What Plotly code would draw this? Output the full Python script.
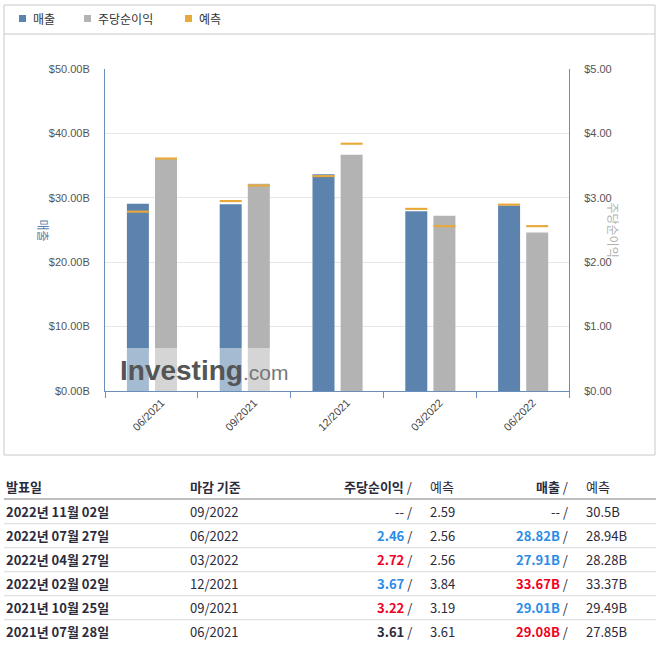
import plotly.graph_objects as go

# Données du tableau (le plus récent en premier)
release_dates = ["2022년 11월 02일", "2022년 07월 27일", "2022년 04월 27일",
                 "2022년 02월 02일", "2021년 10월 25일", "2021년 07월 28일"]
period_end = ["09/2022", "06/2022", "03/2022", "12/2021", "09/2021", "06/2021"]
eps_actual = [None, 2.46, 2.72, 3.67, 3.22, 3.61]
eps_forecast = [2.59, 2.56, 2.56, 3.84, 3.19, 3.61]
rev_actual = [None, 28.82, 27.91, 33.67, 29.01, 29.08]
rev_forecast = [30.5, 28.94, 28.28, 33.37, 29.49, 27.85]

# le graphique montre les périodes publiées, de la plus ancienne à la plus récente
periods = period_end[1:][::-1]
rev_bars = rev_actual[1:][::-1]
eps_bars = eps_actual[1:][::-1]
rev_fc = rev_forecast[1:][::-1]
eps_fc = eps_forecast[1:][::-1]

BLUE = "#5b83ae"
GREY = "#b3b3b3"
ORANGE = "#e9a83a"
AXIS = "#6b8fbd"
RED = "#f0001e"
SKY = "#2a8ce6"
DARK = "#2b2b3b"
FONT = "Arial, Liberation Sans, Noto Sans CJK KR, sans-serif"
KFONT = "Noto Sans CJK KR, Liberation Sans, sans-serif"

W, H = 661, 650
L, R, T, B = 105, 569, 69, 391   # zone de tracé, en pixels


def fx(px):
    return (px - L) / (R - L)


def fy(py):
    return (B - py) / (B - T)


bw, off_rev, off_eps = 0.237, -0.264, 0.039
th_rev, th_eps = 0.33, 0.033

fig = go.Figure()
fig.add_trace(go.Bar(x=periods, y=rev_bars, width=bw, offset=off_rev,
                     marker=dict(color=BLUE, line_width=0), name="매출"))
fig.add_trace(go.Bar(x=periods, y=[th_rev] * len(periods),
                     base=[v - th_rev / 2 for v in rev_fc], width=bw, offset=off_rev,
                     marker=dict(color=ORANGE, line_width=0), name="예측"))
fig.add_trace(go.Bar(x=periods, y=eps_bars, width=bw, offset=off_eps, yaxis="y2",
                     marker=dict(color=GREY, line_width=0), name="주당순이익"))
fig.add_trace(go.Bar(x=periods, y=[th_eps] * len(periods),
                     base=[v - th_eps / 2 for v in eps_fc], width=bw, offset=off_eps,
                     yaxis="y2", marker=dict(color=ORANGE, line_width=0), name="예측"))

shapes = []
annotations = []

# cadre + séparateur de légende
shapes.append(dict(type="rect", xref="paper", yref="paper", x0=fx(4), x1=fx(655),
                   y0=fy(455), y1=fy(5), line=dict(color="#c8c8c8", width=1), layer="below"))
shapes.append(dict(type="line", xref="paper", yref="paper", x0=fx(4), x1=fx(655),
                   y0=fy(34), y1=fy(34), line=dict(color="#c8c8c8", width=1)))

# légende
legend_items = [("매출", BLUE, 19), ("주당순이익", GREY, 84), ("예측", ORANGE, 185)]
for label, color, px in legend_items:
    shapes.append(dict(type="rect", xref="paper", yref="paper", x0=fx(px), x1=fx(px + 7),
                       y0=fy(22), y1=fy(15), fillcolor=color, line_width=0))
    annotations.append(dict(text=label, xref="paper", yref="paper", x=fx(px + 12), y=fy(18.5),
                            xanchor="left", yanchor="middle", showarrow=False,
                            font=dict(family=KFONT, size=12, color="#333")))

# titres des axes
annotations.append(dict(text="매출", xref="paper", yref="paper", x=fx(33), y=fy(230),
                        textangle=90, showarrow=False, font=dict(family=KFONT, size=12, color="#5a7fad")))
annotations.append(dict(text="주당순이익", xref="paper", yref="paper", x=fx(624), y=fy(230),
                        textangle=90, showarrow=False, font=dict(family=KFONT, size=12, color="#b0b0b0")))

# filigrane
shapes.append(dict(type="rect", xref="paper", yref="paper", x0=fx(116), x1=fx(285),
                   y0=fy(391), y1=fy(348), fillcolor="rgba(255,255,255,0.45)", line_width=0,
                   layer="above"))
annotations.append(dict(text="<b>Investing</b><span style='font-size:21px;color:#777'>.com</span>",
                        xref="paper", yref="paper", x=fx(118), y=fy(370), xanchor="left",
                        yanchor="middle", showarrow=False,
                        font=dict(family="Liberation Sans, Arial", size=28, color="#555")))

# tableau
col_date, col_period = 4, 188
eps_right, eps_fc_left = 414, 428
rev_right, rev_fc_left = 570, 584
header_y = 486
row_y0, row_h = 511.7, 24


def cell(text, px, py, anchor, color=DARK, size=13):
    annotations.append(dict(text=text, xref="paper", yref="paper", x=fx(px), y=fy(py),
                            xanchor=anchor, yanchor="middle", showarrow=False,
                            font=dict(family=KFONT, size=size, color=color)))


cell("<b>발표일</b>", col_date, header_y, "left")
cell("<b>마감 기준</b>", col_period, header_y, "left")
cell("<b>주당순이익</b> /", eps_right, header_y, "right")
cell("예측", eps_fc_left, header_y, "left")
cell("<b>매출</b> /", rev_right, header_y, "right")
cell("예측", rev_fc_left, header_y, "left")
shapes.append(dict(type="line", xref="paper", yref="paper", x0=fx(4), x1=fx(656),
                   y0=fy(499), y1=fy(499), line=dict(color="#bdbdbd", width=2)))


def beat_color(actual, forecast):
    if actual > forecast:
        return RED
    if actual < forecast:
        return SKY
    return DARK


for i in range(len(release_dates)):
    y = row_y0 + i * row_h
    cell("<b>" + release_dates[i] + "</b>", col_date, y, "left")
    cell(period_end[i], col_period, y, "left")
    if eps_actual[i] is None:
        cell("-- /", eps_right, y, "right")
    else:
        c = beat_color(eps_actual[i], eps_forecast[i])
        cell(f"<span style='color:{c}'><b>{eps_actual[i]:.2f}</b></span> /", eps_right, y, "right")
    cell(f"{eps_forecast[i]:.2f}", eps_fc_left, y, "left")
    if rev_actual[i] is None:
        cell("-- /", rev_right, y, "right")
    else:
        c = beat_color(rev_actual[i], rev_forecast[i])
        cell(f"<span style='color:{c}'><b>{rev_actual[i]:.2f}B</b></span> /", rev_right, y, "right")
    cell(f"{rev_forecast[i]:g}B", rev_fc_left, y, "left")
    if i < len(release_dates) - 1:
        shapes.append(dict(type="line", xref="paper", yref="paper", x0=fx(4), x1=fx(656),
                           y0=fy(y + 12), y1=fy(y + 12), line=dict(color="#d8d8d8", width=1)))

fig.update_layout(
    width=W, height=H,
    margin=dict(l=L, r=W - R, t=T, b=H - B, pad=0),
    paper_bgcolor="white", plot_bgcolor="white",
    barmode="overlay", showlegend=False,
    font=dict(family=FONT, size=11, color="#555"),
    xaxis=dict(type="category", tickson="boundaries", ticks="outside", ticklen=6,
               tickcolor=AXIS, showline=True, linecolor=AXIS, linewidth=1, showgrid=False,
               tickangle=-45, ticklabelshift=10, tickfont=dict(size=11, color="#444"),
               range=[-0.5, len(periods) - 0.5]),
    yaxis=dict(range=[0, 50], dtick=10, tickprefix="$", tickformat=".2f", ticksuffix="B",
               showline=True, linecolor=AXIS, gridcolor="#e6e6e6", zeroline=False,
               ticklabelstandoff=12, tickfont=dict(size=11, color="#555")),
    yaxis2=dict(range=[0, 5], dtick=1, tickprefix="$", tickformat=".2f", overlaying="y",
                side="right", showline=True, linecolor=AXIS, showgrid=False, zeroline=False,
                ticklabelstandoff=12, tickfont=dict(size=11, color="#555")),
    shapes=shapes,
    annotations=annotations,
)

# pas de marge autour de la figure dans la page, pas de barre d'outils
fig.write_html("out.html", config={"displayModeBar": False},
               post_script="document.body.style.margin = '0px';")
